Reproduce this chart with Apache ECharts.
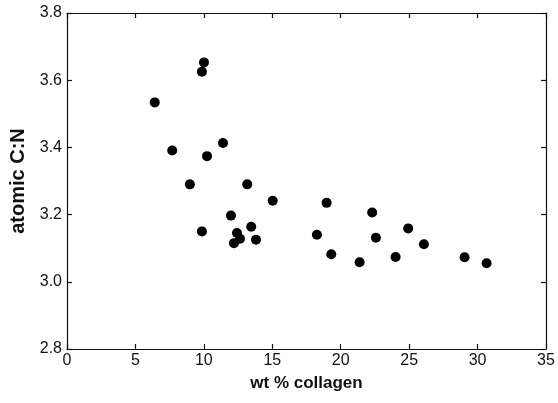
<!DOCTYPE html>
<html>
<head>
<meta charset="utf-8">
<script src="https://cdn.jsdelivr.net/npm/echarts@6/dist/echarts.min.js"></script>
<style>html,body{margin:0;padding:0;background:#fff}#c{width:558px;height:403px}</style>
</head>
<body>
<div id="c"></div>
<script>
var collagen = [6.41, 10.01, 9.86, 7.69, 10.23, 11.40, 8.98, 13.17, 15.03, 18.97, 22.30, 24.93, 11.98, 13.46, 9.86, 12.42, 12.64, 12.20, 13.81, 18.26, 22.57, 19.31, 21.38, 24.01, 26.08, 29.05, 30.66];
var cn = [3.534, 3.653, 3.625, 3.391, 3.374, 3.413, 3.290, 3.290, 3.241, 3.235, 3.206, 3.159, 3.197, 3.164, 3.150, 3.145, 3.128, 3.115, 3.125, 3.140, 3.131, 3.082, 3.058, 3.074, 3.112, 3.073, 3.055];
var xLabel = 'wt % collagen';
var yLabel = 'atomic C:N';

var pts = collagen.map(function (x, i) { return [x, cn[i]]; });
var font = 'Liberation Sans, Arial, Helvetica, sans-serif';
var lineStyle = { color: '#111', width: 1.2 };
var chart = echarts.init(document.getElementById('c'), null, { renderer: 'canvas' });
chart.setOption({
  animation: false,
  backgroundColor: '#fff',
  grid: { left: 67, top: 13, width: 479, height: 336, containLabel: false },
  xAxis: [{
    type: 'value', min: 0, max: 35, interval: 5, position: 'bottom',
    name: xLabel, nameLocation: 'middle', nameGap: 26,
    nameTextStyle: { fontFamily: font, fontSize: 17, fontWeight: 'bold', color: '#111' },
    axisLine: { show: true, lineStyle: lineStyle },
    axisTick: { show: true, inside: true, length: 5, lineStyle: lineStyle },
    axisLabel: { fontFamily: font, fontSize: 16, color: '#111', margin: 4 },
    splitLine: { show: false }
  }, {
    type: 'value', min: 0, max: 35, interval: 5, position: 'top',
    axisLine: { show: true, onZero: false, lineStyle: lineStyle },
    axisTick: { show: true, inside: true, length: 5, lineStyle: lineStyle },
    axisLabel: { show: false }, splitLine: { show: false }
  }],
  yAxis: [{
    type: 'value', min: 2.8, max: 3.8, interval: 0.2, position: 'left',
    name: yLabel, nameLocation: 'middle', nameGap: 36, nameRotate: 90,
    nameTextStyle: { fontFamily: font, fontSize: 20, fontWeight: 'bold', color: '#111' },
    axisLine: { show: true, onZero: false, lineStyle: lineStyle },
    axisTick: { show: true, inside: true, length: 5, lineStyle: lineStyle },
    axisLabel: { fontFamily: font, fontSize: 16, color: '#111', margin: 5,
      formatter: function (v) { return v.toFixed(1); } },
    splitLine: { show: false }
  }, {
    type: 'value', min: 2.8, max: 3.8, interval: 0.2, position: 'right',
    axisLine: { show: true, onZero: false, lineStyle: lineStyle },
    axisTick: { show: true, inside: true, length: 5, lineStyle: lineStyle },
    axisLabel: { show: false }, splitLine: { show: false }
  }],
  series: [{
    type: 'scatter', xAxisIndex: 0, yAxisIndex: 0,
    data: pts, symbol: 'circle', symbolSize: 10,
    itemStyle: { color: '#000', opacity: 1 }
  }]
});
</script>
</body>
</html>
